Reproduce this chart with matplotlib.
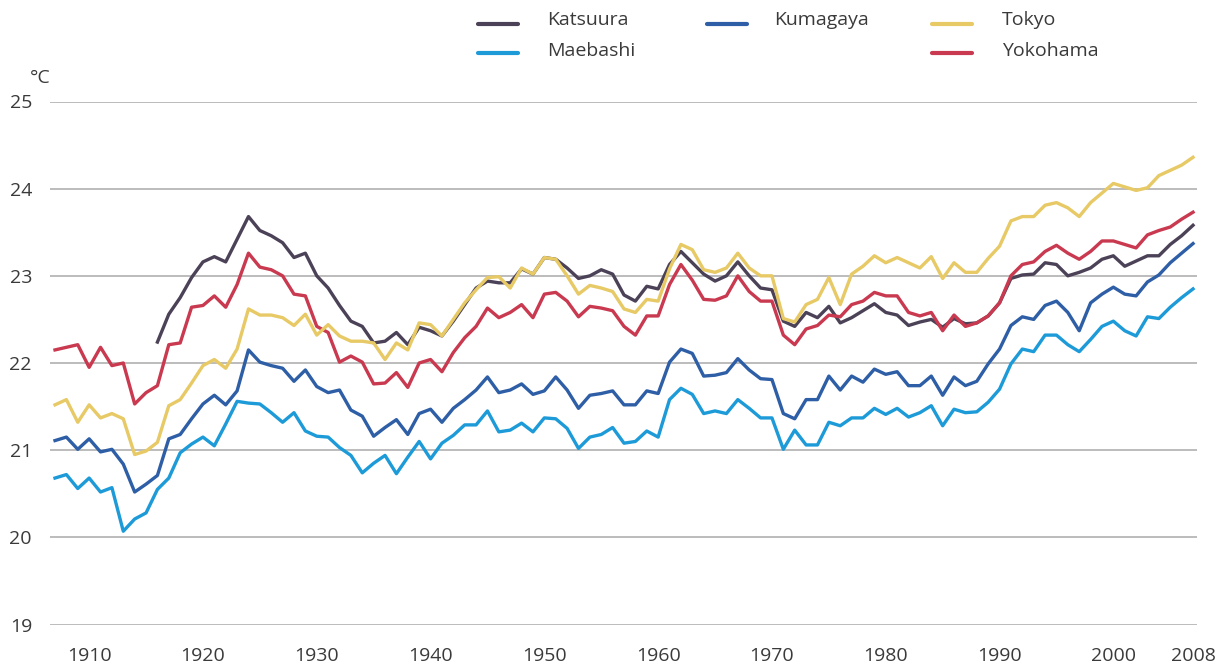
import numpy as np
import matplotlib.pyplot as plt
from matplotlib.lines import Line2D

plt.rcParams['font.family'] = ['Open Sans', 'DejaVu Sans']

years = np.arange(1907, 2008)

nan = np.nan
katsuura = [nan, nan, nan, nan, nan, nan, nan, nan, nan,
            22.24, 22.56, 22.75, 22.98, 23.16, 23.22, 23.16, 23.42, 23.68, 23.52,
            23.46, 23.38, 23.21, 23.26, 23.00, 22.86, 22.66, 22.48, 22.42, 22.23,
            22.25, 22.35, 22.21, 22.41, 22.37, 22.31, 22.48, 22.67, 22.86, 22.94,
            22.92, 22.92, 23.08, 23.02, 23.21, 23.19, 23.09, 22.97, 23.00, 23.07,
            23.02, 22.78, 22.71, 22.88, 22.85, 23.13, 23.28, 23.15, 23.02, 22.94,
            23.00, 23.16, 23.00, 22.86, 22.84, 22.48, 22.42, 22.58, 22.52, 22.65,
            22.46, 22.52, 22.60, 22.68, 22.58, 22.55, 22.43, 22.47, 22.50, 22.41,
            22.51, 22.45, 22.46, 22.54, 22.69, 22.97, 23.01, 23.02, 23.15, 23.13,
            23.00, 23.04, 23.09, 23.19, 23.23, 23.11, 23.17, 23.23, 23.23, 23.36,
            23.46, 23.58]

maebashi = [20.68, 20.72, 20.56, 20.68, 20.52, 20.57, 20.07, 20.21, 20.28, 20.55,
            20.68, 20.97, 21.07, 21.15, 21.05, 21.30, 21.56, 21.54, 21.53, 21.43,
            21.32, 21.43, 21.22, 21.16, 21.15, 21.03, 20.94, 20.74, 20.85, 20.94,
            20.73, 20.92, 21.10, 20.90, 21.08, 21.17, 21.29, 21.29, 21.45, 21.21,
            21.23, 21.31, 21.21, 21.37, 21.36, 21.25, 21.02, 21.15, 21.18, 21.26,
            21.08, 21.10, 21.22, 21.15, 21.58, 21.71, 21.64, 21.42, 21.45, 21.42,
            21.58, 21.48, 21.37, 21.37, 21.01, 21.23, 21.06, 21.06, 21.32, 21.28,
            21.37, 21.37, 21.48, 21.41, 21.48, 21.38, 21.43, 21.51, 21.28, 21.47,
            21.43, 21.44, 21.55, 21.70, 21.99, 22.16, 22.13, 22.32, 22.32, 22.21,
            22.13, 22.27, 22.42, 22.48, 22.37, 22.31, 22.53, 22.51, 22.64, 22.75,
            22.85]

kumagaya = [21.11, 21.15, 21.01, 21.13, 20.98, 21.01, 20.84, 20.52, 20.61, 20.71,
            21.13, 21.18, 21.36, 21.53, 21.63, 21.52, 21.68, 22.15, 22.01, 21.97,
            21.94, 21.79, 21.92, 21.73, 21.66, 21.69, 21.46, 21.39, 21.16, 21.26,
            21.35, 21.18, 21.42, 21.47, 21.32, 21.48, 21.58, 21.69, 21.84, 21.66,
            21.69, 21.76, 21.64, 21.68, 21.84, 21.69, 21.48, 21.63, 21.65, 21.68,
            21.52, 21.52, 21.68, 21.65, 22.01, 22.16, 22.11, 21.85, 21.86, 21.89,
            22.05, 21.92, 21.82, 21.81, 21.42, 21.36, 21.58, 21.58, 21.85, 21.69,
            21.85, 21.78, 21.93, 21.87, 21.90, 21.74, 21.74, 21.85, 21.63, 21.84,
            21.74, 21.79, 21.99, 22.16, 22.43, 22.53, 22.50, 22.66, 22.71, 22.58,
            22.37, 22.69, 22.79, 22.87, 22.79, 22.77, 22.93, 23.01, 23.15, 23.26,
            23.37]

tokyo = [21.52, 21.58, 21.32, 21.52, 21.37, 21.42, 21.36, 20.95, 20.99, 21.09,
         21.51, 21.58, 21.77, 21.97, 22.04, 21.94, 22.16, 22.62, 22.55, 22.55,
         22.52, 22.43, 22.56, 22.32, 22.44, 22.31, 22.25, 22.25, 22.23, 22.04,
         22.23, 22.15, 22.46, 22.44, 22.31, 22.50, 22.69, 22.84, 22.98, 22.99,
         22.86, 23.09, 23.02, 23.21, 23.19, 23.00, 22.79, 22.89, 22.86, 22.82,
         22.62, 22.58, 22.73, 22.71, 23.08, 23.36, 23.30, 23.07, 23.04, 23.09,
         23.26, 23.09, 23.00, 23.00, 22.51, 22.47, 22.67, 22.73, 22.98, 22.67,
         23.02, 23.11, 23.23, 23.15, 23.21, 23.15, 23.09, 23.22, 22.97, 23.15,
         23.04, 23.04, 23.20, 23.34, 23.63, 23.68, 23.68, 23.81, 23.84, 23.78,
         23.68, 23.84, 23.95, 24.06, 24.02, 23.98, 24.01, 24.15, 24.21, 24.27,
         24.36]

yokohama = [22.15, 22.18, 22.21, 21.95, 22.18, 21.97, 22.00, 21.53, 21.66, 21.74,
            22.21, 22.23, 22.64, 22.66, 22.77, 22.64, 22.90, 23.26, 23.10, 23.07,
            23.00, 22.79, 22.77, 22.42, 22.35, 22.01, 22.08, 22.01, 21.76, 21.77,
            21.89, 21.72, 22.00, 22.04, 21.90, 22.12, 22.29, 22.42, 22.63, 22.52,
            22.58, 22.67, 22.52, 22.79, 22.81, 22.71, 22.53, 22.65, 22.63, 22.60,
            22.42, 22.32, 22.54, 22.54, 22.90, 23.13, 22.95, 22.73, 22.72, 22.77,
            23.00, 22.82, 22.71, 22.71, 22.32, 22.21, 22.39, 22.43, 22.55, 22.53,
            22.67, 22.71, 22.81, 22.77, 22.77, 22.58, 22.54, 22.58, 22.37, 22.55,
            22.42, 22.46, 22.54, 22.69, 23.00, 23.13, 23.16, 23.28, 23.35, 23.26,
            23.19, 23.28, 23.40, 23.40, 23.36, 23.32, 23.47, 23.52, 23.56, 23.65,
            23.73]

tick_years = [1910, 1920, 1930, 1940, 1950, 1960, 1970, 1980, 1990, 2000, 2007]
tick_labels = ['1910', '1920', '1930', '1940', '1950', '1960', '1970', '1980',
               '1990', '2000', '2008']

colors = {
    'Katsuura': '#4b4257',
    'Maebashi': '#1d9ad8',
    'Kumagaya': '#2e5ea6',
    'Tokyo': '#e7c965',
    'Yokohama': '#c9394f',
}

text_color = '#3a3a3a'
lw = 2.4
W, H = 1228, 666

fig = plt.figure(figsize=(W / 100, H / 100), dpi=100)
ax = fig.add_axes([50 / W, 41.5 / H, 1147 / W, 523 / H])

ax.plot(years, katsuura, color=colors['Katsuura'], lw=lw, zorder=3)
ax.plot(years, kumagaya, color=colors['Kumagaya'], lw=lw, zorder=3)
ax.plot(years, maebashi, color=colors['Maebashi'], lw=lw, zorder=3)
ax.plot(years, yokohama, color=colors['Yokohama'], lw=lw, zorder=4)
ax.plot(years, tokyo, color=colors['Tokyo'], lw=lw, zorder=5)

ax.set_xlim(1906.56, 2007.35)
ax.set_ylim(19, 25)
ax.set_yticks(range(19, 26))
ax.set_xticks(tick_years)
ax.set_xticklabels(tick_labels)
ax.grid(axis='y', color='#aaaaaa', lw=1.1)
ax.set_axisbelow(True)
for s in ax.spines.values():
    s.set_visible(False)
ax.tick_params(axis='both', length=0, labelsize=14, labelcolor=text_color)
ax.tick_params(axis='x', pad=16)
ax.tick_params(axis='y', pad=13)

fig.text(30 / W, 1 - 78 / H, '°C', fontsize=14, color=text_color,
         ha='left', va='center')

# legend laid out by hand: three columns, (name, handle x, text x, baseline, handle y)
legend_items = [
    ('Katsuura', 478, 547, 25, 24),
    ('Maebashi', 478, 547, 56, 53),
    ('Kumagaya', 707, 774, 25, 24),
    ('Tokyo', 932, 1002, 25, 24),
    ('Yokohama', 932, 1002, 56, 53),
]
for name, hx, tx, by, hy in legend_items:
    fig.add_artist(Line2D([hx / W, (hx + 40) / W], [1 - hy / H, 1 - hy / H],
                          color=colors[name], lw=3.0, solid_capstyle='round',
                          transform=fig.transFigure))
    fig.text(tx / W, 1 - by / H, name, fontsize=14, color=text_color,
             ha='left', va='baseline')

fig.savefig('out.png', dpi=100)
